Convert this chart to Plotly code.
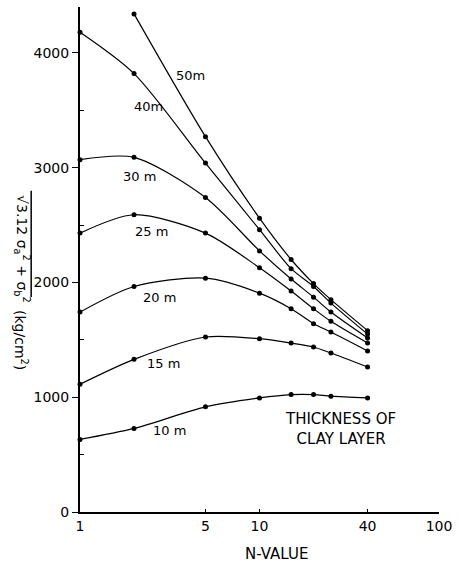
import plotly.graph_objects as go

# N-values at which the curves were evaluated
n_values = [1, 2, 5, 10, 15, 20, 25, 40]

# sqrt(3.12 sa^2 + sb^2) in kg/cm2, one list per clay-layer thickness
t50 = [None, 4340, 3270, 2560, 2200, 1990, 1850, 1580]
t40 = [4180, 3820, 3040, 2460, 2120, 1965, 1820, 1550]
t30 = [3070, 3090, 2740, 2275, 2030, 1872, 1742, 1516]
t25 = [2430, 2590, 2430, 2128, 1925, 1771, 1661, 1472]
t20 = [1742, 1965, 2037, 1907, 1771, 1641, 1568, 1403]
t15 = [1113, 1330, 1525, 1510, 1472, 1438, 1385, 1263]
t10 = [632, 728, 916, 994, 1023, 1023, 1009, 994]

series_names = ["50m", "40m", "30 m", "25 m", "20 m", "15 m", "10 m"]
series_values = [t50, t40, t30, t25, t20, t15, t10]

x_ticks = [1, 5, 10, 40, 100]
y_ticks = [0, 1000, 2000, 3000, 4000]
y_minor = [500, 1500, 2500, 3500]

FONT = "DejaVu Sans"

fig = go.Figure()
for name, vals in zip(series_names, series_values):
    xs = [n for n, v in zip(n_values, vals) if v is not None]
    ys = [v for v in vals if v is not None]
    fig.add_trace(go.Scatter(
        x=xs, y=ys, name=name, mode="lines+markers",
        line=dict(color="black", width=1.2, shape="spline", smoothing=0.8),
        marker=dict(color="black", size=5),
        cliponaxis=False, hoverinfo="skip",
    ))

# curve labels (x in log10 units on the log axis)
label_pos = {
    "50m": (0.615, 3807), "40m": (0.382, 3529), "30 m": (0.332, 2927),
    "25 m": (0.399, 2440), "20 m": (0.443, 1873), "15 m": (0.465, 1298),
    "10 m": (0.499, 706),
}
annotations = []
for name in series_names:
    lx, ly = label_pos[name]
    annotations.append(dict(x=lx, y=ly, xref="x", yref="y", text=name,
                            showarrow=False, font=dict(family=FONT, size=13, color="black")))

annotations += [
    dict(x=0.885, y=0.122, xref="paper", yref="paper", text="THICKNESS OF<br>CLAY LAYER",
         showarrow=False, align="center", font=dict(family=FONT, size=15, color="black")),
    dict(x=0.548, y=-0.105, xref="paper", yref="paper", text="N-VALUE",
         showarrow=False, font=dict(family=FONT, size=15, color="black")),
    # y-axis title, written top-to-bottom
    dict(x=-0.197, y=0.52, xref="paper", yref="paper", textangle=90,
         text="√3.12 σ<sub>a</sub><sup>2</sup> + σ<sub>b</sub><sup>2</sup>",
         showarrow=False, font=dict(family=FONT, size=14, color="black")),
    dict(x=-0.197, y=0.34, xref="paper", yref="paper", textangle=90,
         text="(kg/cm<sup>2</sup>)",
         showarrow=False, font=dict(family=FONT, size=14, color="black")),
]

# radical bar over the expression
shapes = [dict(type="line", xref="paper", yref="paper", x0=-0.136, x1=-0.136,
               y0=0.636, y1=0.4257, line=dict(color="black", width=1.5))]

fig.update_layout(
    width=459, height=563,
    margin=dict(l=80, r=18, t=7, b=51),
    paper_bgcolor="white", plot_bgcolor="white",
    showlegend=False,
    annotations=annotations, shapes=shapes,
    xaxis=dict(type="log", range=[0, 2], showline=True, linecolor="black", linewidth=2,
               ticks="inside", ticklen=3, tickcolor="black", tickvals=x_ticks,
               ticktext=[str(v) for v in x_ticks], showgrid=False, zeroline=False,
               tickfont=dict(family=FONT, size=14, color="black")),
    yaxis=dict(range=[0, 4400], showline=True, linecolor="black", linewidth=2,
               ticks="outside", ticklen=6, tickcolor="black", tickvals=y_ticks,
               ticktext=[str(v) for v in y_ticks], showgrid=False, zeroline=False,
               tickfont=dict(family=FONT, size=14, color="black"),
               minor=dict(tickvals=y_minor, ticks="inside", ticklen=4, tickcolor="black")),
)

fig.write_html("out.html")
